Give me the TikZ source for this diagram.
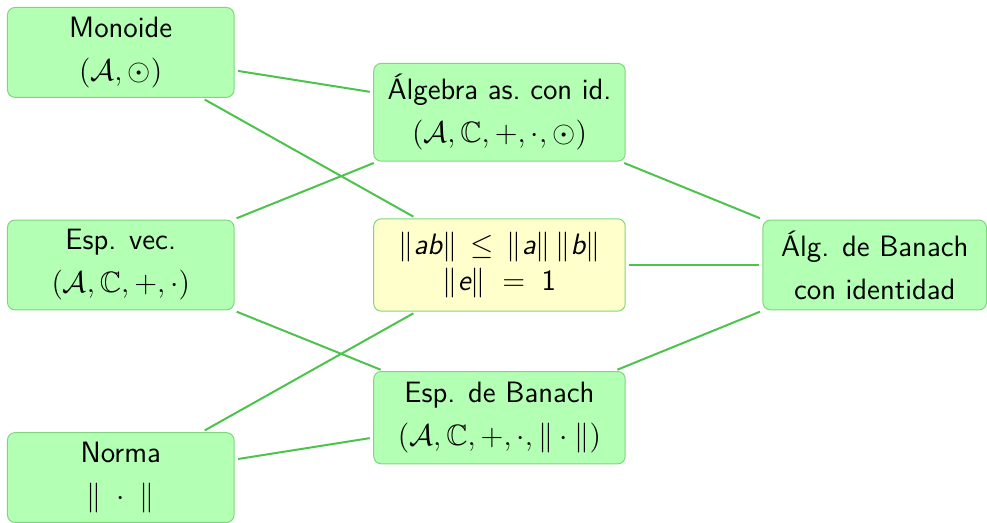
\documentclass[tikz,border=0pt]{standalone}
\usepackage{amsmath,amssymb}
\usepackage{xcolor}
\usetikzlibrary{positioning}
\definecolor{nodeGreen}{HTML}{B3FFB3}
\definecolor{nodeYellow}{HTML}{FFFFCC}
\definecolor{edgeGreen}{HTML}{4CC34C}
\definecolor{rimGreen}{HTML}{7ED77E}

\begin{document}
\begin{tikzpicture}[font=\sffamily\fontsize{11.8}{17.2}\selectfont, node distance=48.8pt,
    struct/.style={draw=rimGreen, fill=nodeGreen, rounded corners=3pt, align=center,
      minimum width=90.8pt, minimum height=36pt, inner sep=0pt},
    wide/.style={struct, minimum width=100.8pt, minimum height=37pt},
    link/.style={edgeGreen, line width=0.8pt, shorten <=1.4pt, shorten >=1.4pt}]
  % left column
  \node[struct] (vec) {Esp. vec.\\ $(\mathcal{A},\mathbb{C},+,\cdot)$};
  \node[struct, above=of vec] (monoide) {Monoide\\ $(\mathcal{A},\odot)$};
  \node[struct, below=of vec] (norma) {Norma\\ $\|\;\cdot\;\|$};
  % middle column
  \node[wide, fill=nodeYellow, right=55.6pt of vec] (mult)
    {$\|\text{\itshape ab}\| \,\le\, \|\text{\itshape a}\|\,\|\text{\itshape b}\|$\\[-2.8pt]
     $\|\text{\itshape e}\| \;=\; \text{1}$};
  \node[wide, minimum height=39.2pt, above=22.7pt of mult] (algebra) {Álgebra as.\ con id.\\ $(\mathcal{A},\mathbb{C},+,\cdot,\odot)$};
  \node[wide, below=23.8pt of mult] (banach) {Esp. de Banach\\ $(\mathcal{A},\mathbb{C},+,\cdot,\|\cdot\|)$};
  % right column
  \node[struct, minimum width=89.6pt, right=54.8pt of mult] (banachalg) {Álg. de Banach\\ con identidad};

  \useasboundingbox ([shift={(-2.8pt,2.8pt)}]monoide.north west) rectangle (banachalg.east |- norma.south);

  \draw[link] (monoide) -- (algebra);
  \draw[link] (monoide) -- (mult);
  \draw[link] (vec) -- (algebra);
  \draw[link] (vec) -- (banach);
  \draw[link] (norma) -- (mult);
  \draw[link] (norma) -- (banach);
  \draw[link] (algebra) -- (banachalg);
  \draw[link] (mult) -- (banachalg);
  \draw[link] (banach) -- (banachalg);
\end{tikzpicture}
\end{document}
